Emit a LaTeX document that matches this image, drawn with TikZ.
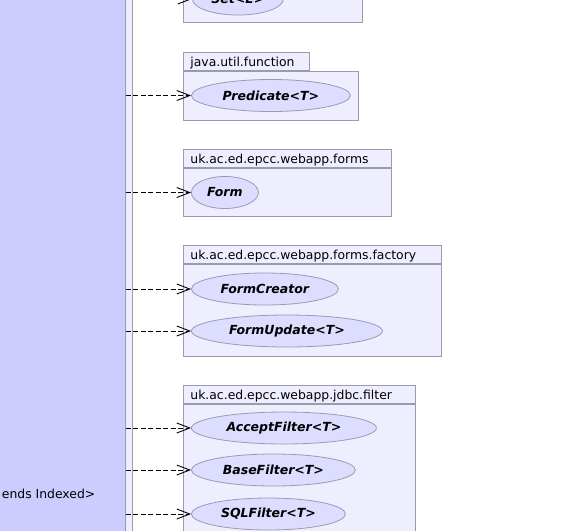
\documentclass[tikz,border=0pt]{standalone}
\usepackage{fontspec}
\setmainfont{DejaVu Sans}
\usetikzlibrary{shapes.geometric, arrows.meta, positioning}
\definecolor{clsfill}{HTML}{CCCCFF}
\definecolor{pkgfill}{HTML}{EEEEFF}
\definecolor{ifcfill}{HTML}{DDDDFF}
\definecolor{umlline}{HTML}{9A9AB0}
\tikzstyle{pkgbody} = [draw=umlline, fill=pkgfill, rectangle, anchor=north west, inner sep=0pt, line width=0.8pt]
\tikzstyle{pkgtab} = [draw=umlline, fill=pkgfill, rectangle, minimum height=18pt, inner xsep=7pt, inner ysep=0pt, text height=10pt, text depth=1pt, align=left, line width=0.8pt, font=\fontsize{12.4}{14}\selectfont]
\tikzstyle{ifc} = [ellipse, draw=umlline, fill=ifcfill, minimum height=32pt, inner sep=0pt, anchor=west, line width=0.8pt, font=\fontsize{12.5}{14}\selectfont\bfseries\itshape]
\tikzstyle{dep} = [black, line width=0.9pt, dash pattern=on 5pt off 2.5pt, -{Straight Barb[length=13pt, width=10pt]}]

\begin{document}
\begin{tikzpicture}[x=1pt, y=-1pt]
    \useasboundingbox (0,0) rectangle (569,530);
    \clip (0,0) rectangle (569,530);

    % Left package and class
    \node (pkgleft) [draw=umlline, fill=pkgfill, line width=0.8pt, minimum width=300pt, minimum height=700pt, inner sep=0pt, anchor=east] at (133,265) {};
    \node (cls) [draw=umlline, fill=clsfill, line width=0.8pt, minimum width=280pt, minimum height=680pt, inner sep=0pt, anchor=east] at (125.5,265) {};
    \node (clsname) [anchor=east, inner sep=0pt, font=\fontsize{12.4}{14}\selectfont] at (95.5,494) {ends Indexed>};

    % java.util (cut off)
    \node (setbody) [pkgbody, minimum width=179pt, minimum height=60pt, anchor=south west] at (183,23) {};
    \node (set) [ifc, minimum width=91pt] at (192,-1) {Set<E>};
    \draw [dep] (cls.east |- set.west) -- (set.west);

    % java.util.function
    \node (fnbody) [pkgbody, minimum width=175pt, minimum height=49pt] at (183,71) {};
    \node (fntab) [pkgtab, text width=112pt, above right=0pt of fnbody.north west] {java.util.function};
    \node (pred) [ifc, minimum width=159pt] at (191,95.5) {Predicate<T>};
    \draw [dep] (cls.east |- pred.west) -- (pred.west);

    % forms
    \node (formsbody) [pkgbody, minimum width=208pt, minimum height=48pt] at (183,168) {};
    \node (formstab) [pkgtab, text width=194pt, above right=0pt of formsbody.north west] {uk.ac.ed.epcc.webapp.forms};
    \node (form) [ifc, minimum width=67pt] at (191,192.5) {Form};
    \draw [dep] (cls.east |- form.west) -- (form.west);

    % forms.factory
    \node (factbody) [pkgbody, minimum width=258pt, minimum height=92pt] at (183,264) {};
    \node (facttab) [pkgtab, text width=244pt, above right=0pt of factbody.north west] {uk.ac.ed.epcc.webapp.forms.factory};
    \node (creator) [ifc, minimum width=147pt] at (191,289) {FormCreator};
    \node (update) [ifc, minimum width=191pt] at (191,331) {FormUpdate<T>};
    \draw [dep] (cls.east |- creator.west) -- (creator.west);
    \draw [dep] (cls.east |- update.west) -- (update.west);

    % jdbc.filter
    \node (filtbody) [pkgbody, minimum width=232pt, minimum height=200pt] at (183,404) {};
    \node (filttab) [pkgtab, text width=218pt, above right=0pt of filtbody.north west] {uk.ac.ed.epcc.webapp.jdbc.filter};
    \node (accept) [ifc, minimum width=185pt] at (191,428) {AcceptFilter<T>};
    \node (base) [ifc, minimum width=164pt] at (191,470) {BaseFilter<T>};
    \node (sql) [ifc, minimum width=154pt] at (191,514) {SQLFilter<T>};
    \draw [dep] (cls.east |- accept.west) -- (accept.west);
    \draw [dep] (cls.east |- base.west) -- (base.west);
    \draw [dep] (cls.east |- sql.west) -- (sql.west);
\end{tikzpicture}
\end{document}
